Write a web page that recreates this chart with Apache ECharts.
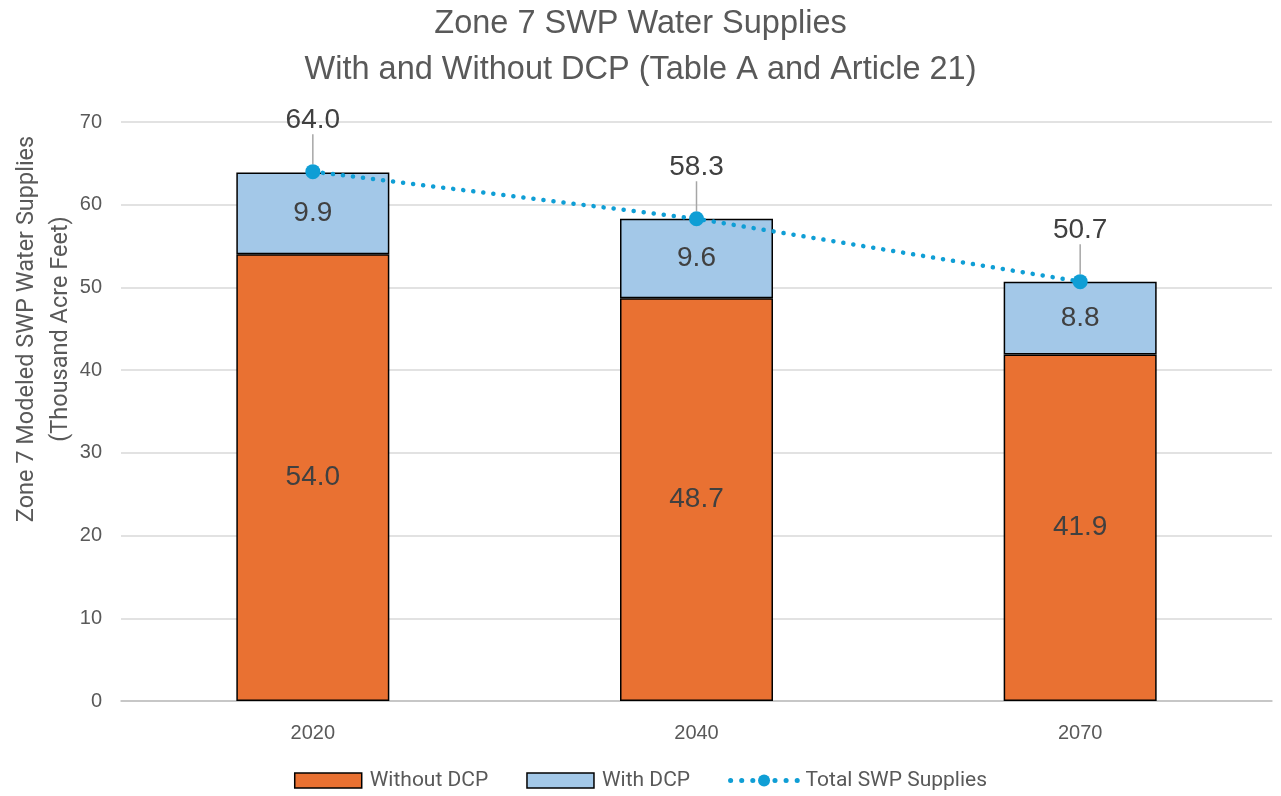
<!DOCTYPE html>
<html>
<head>
<meta charset="utf-8">
<script src="https://cdn.jsdelivr.net/npm/echarts@6/dist/echarts.min.js"></script>
<style>
  html, body { margin: 0; padding: 0; background: #fff; }
  #chart { width: 1281px; height: 796px; }
</style>
</head>
<body>
<div id="chart"></div>
<script>
const years = ['2020', '2040', '2070'];
const withoutDcp = [54.0, 48.7, 41.9];
const withDcp = [9.9, 9.6, 8.8];
const totalSupplies = [64.0, 58.3, 50.7];
const yTicks = { min: 0, max: 70, interval: 10 };
const yTitle = 'Zone 7 Modeled SWP Water Supplies\n(Thousand Acre Feet)';

const chart = echarts.init(document.getElementById('chart'));
const narrow = 'Roboto, "Liberation Sans", sans-serif';
const arial = '"Liberation Sans", Arial, sans-serif';
const option = {
  animation: false,
  title: {
    text: 'Zone 7 SWP Water Supplies\nWith and Without DCP (Table A and Article 21)',
    left: 'center',
    top: -4,
    textStyle: {
      fontFamily: arial,
      fontWeight: 'normal',
      fontSize: 32.5,
      lineHeight: 46,
      color: '#595959'
    }
  },
  // y axis title sits above the middle of the plot, as in the source
  graphic: [{
    type: 'text',
    x: 44,
    y: 329,
    rotation: Math.PI / 2,
    style: {
      text: yTitle,
      fontFamily: narrow,
      fontSize: 23.5,
      lineHeight: 34,
      fill: '#595959',
      align: 'center',
      verticalAlign: 'middle'
    }
  }],
  legend: {
    bottom: 0,
    left: 'center',
    itemGap: 38,
    itemWidth: 67,
    itemHeight: 15,
    textStyle: { fontFamily: narrow, fontSize: 21, color: '#595959', padding: [0, 0, 0, 3] },
    data: [
      { name: 'Without DCP', icon: 'rect', itemStyle: { borderColor: '#000', borderWidth: 1.5 } },
      { name: 'With DCP', icon: 'rect', itemStyle: { borderColor: '#000', borderWidth: 1.5 } },
      { name: 'Total SWP Supplies', lineStyle: { width: 5, type: [0.1, 11], cap: 'round' } }
    ]
  },
  grid: { left: 121, right: 9, top: 122, bottom: 95, outerBoundsMode: 'none' },
  xAxis: {
    type: 'category',
    data: years,
    axisTick: { show: false },
    axisLine: { lineStyle: { color: '#bfbfbf', width: 1.5 } },
    axisLabel: {
      margin: 22,
      fontFamily: arial,
      fontSize: 20,
      color: '#595959'
    }
  },
  yAxis: {
    type: 'value',
    min: yTicks.min,
    max: yTicks.max,
    interval: yTicks.interval,
    axisLabel: {
      margin: 19,
      fontFamily: arial,
      fontSize: 20,
      color: '#595959'
    },
    splitLine: { lineStyle: { color: '#d9d9d9', width: 1.5 } }
  },
  series: [
    {
      name: 'Without DCP',
      type: 'bar',
      stack: 'swp',
      barWidth: 153,
      data: withoutDcp,
      itemStyle: { color: '#E97132', borderColor: '#000', borderWidth: 1.5 },
      label: {
        show: true,
        position: 'inside',
        formatter: p => p.value.toFixed(1),
        fontFamily: arial,
        fontSize: 28,
        color: '#404040'
      }
    },
    {
      name: 'With DCP',
      type: 'bar',
      stack: 'swp',
      barWidth: 153,
      data: withDcp,
      itemStyle: { color: '#A3C8E8', borderColor: '#000', borderWidth: 1.5 },
      label: {
        show: true,
        position: 'inside',
        formatter: p => p.value.toFixed(1),
        fontFamily: arial,
        fontSize: 28,
        color: '#404040'
      }
    },
    {
      name: 'Total SWP Supplies',
      type: 'line',
      data: totalSupplies,
      z: 5,
      symbol: 'circle',
      symbolSize: 15,
      itemStyle: { color: '#0F9ED5' },
      lineStyle: { color: '#0F9ED5', width: 4.5, type: [0.1, 10], cap: 'round' },
      label: {
        show: true,
        position: 'top',
        distance: 8,
        formatter: p => p.value.toFixed(1),
        fontFamily: arial,
        fontSize: 28,
        color: '#404040'
      },
      labelLayout: { dy: -22 },
      labelLine: { show: true, lineStyle: { color: '#a6a6a6', width: 1.5 } }
    }
  ]
};
chart.setOption(option);
</script>
</body>
</html>
